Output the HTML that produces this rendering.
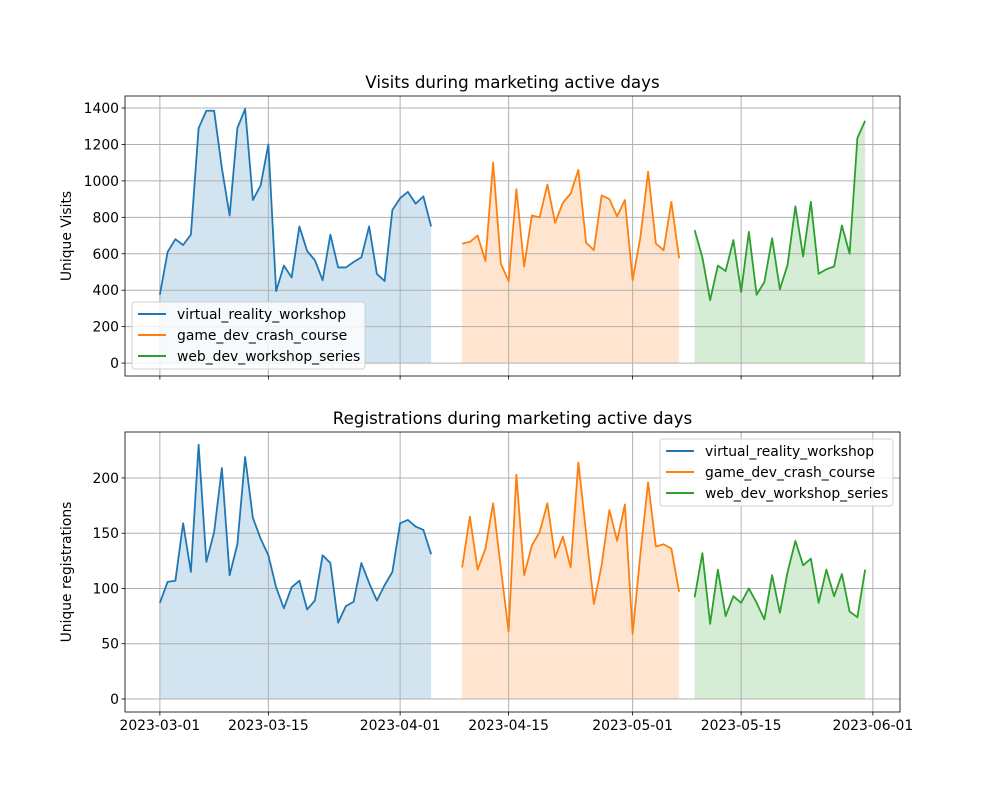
<!DOCTYPE html>
<html><head><meta charset="utf-8"><style>
body{margin:0;background:#fff;font-family:"Liberation Sans","DejaVu Sans",sans-serif}
svg text{font-family:"DejaVu Sans","Liberation Sans",sans-serif;fill:#000}
</style></head><body>
<svg id="fig" width="1000" height="800" viewBox="0 0 1000 800" xmlns="http://www.w3.org/2000/svg"></svg>
<script>
const seriesNames = ["virtual_reality_workshop","game_dev_crash_course","web_dev_workshop_series"];
const colors = ["#1f77b4","#ff7f0e","#2ca02c"];
const startDays = [0, 39, 69]; // days after 2023-03-01
const visitsVR = [375,610,680,648,705,1290,1385,1385,1070,810,1290,1395,895,975,1200,395,535,470,750,615,565,455,705,525,525,555,580,750,490,450,840,905,940,875,915,750];
const visitsGame = [655,665,700,560,1100,545,450,955,530,810,800,980,770,880,930,1060,660,620,920,900,805,895,455,690,1050,655,620,885,575];
const visitsWeb = [730,580,345,535,505,675,390,720,375,445,685,405,540,860,585,885,490,515,530,755,600,1235,1330];
const regsVR = [87,106,107,159,115,230,124,151,209,112,140,219,164,145,130,101,82,101,107,81,89,130,123,69,84,88,123,105,89,103,115,159,162,156,153,131];
const regsGame = [119,165,117,136,177,118,61,203,112,139,151,177,128,147,119,214,150,86,121,171,143,176,59,131,196,138,140,136,97];
const regsWeb = [92,132,68,117,75,93,87,100,87,72,112,78,115,143,121,127,87,117,93,113,79,74,117];
const xTickDays = [0,14,31,45,61,75,92];
const xTickLabels = ["2023-03-01","2023-03-15","2023-04-01","2023-04-15","2023-05-01","2023-05-15","2023-06-01"];
const visitTicks = [0,200,400,600,800,1000,1200,1400];
const regTicks = [0,50,100,150,200];

const NS="http://www.w3.org/2000/svg";
const svg=document.getElementById('fig');
function mk(tag,attrs,parent){const e=document.createElementNS(NS,tag);for(const k in attrs)e.setAttribute(k,attrs[k]);(parent||svg).appendChild(e);return e;}
const L=125,R=900;
const xs=d=>L+(d+4.5)/100*(R-L);

function panel(top,bottom,ymin,ymax,yTicks,data,title,ylabel,showXLabels,legendPos,prefix){
  const ys=v=>bottom-(v-ymin)/(ymax-ymin)*(bottom-top);
  const g=mk('g',{});
  
  
  data.forEach((arr,i)=>{
    let d='M'+xs(startDays[i])+','+ys(0);
    arr.forEach((v,j)=>{d+=' L'+xs(startDays[i]+j)+','+ys(v);});
    d+=' L'+xs(startDays[i]+arr.length-1)+','+ys(0)+' Z';
    const p=mk('path',{d:d,fill:colors[i],'fill-opacity':0.2,stroke:'none'},g);
    
    
  });
  xTickDays.forEach((d,i)=>{
    const x=xs(d);
    const gl=mk('line',{x1:x,x2:x,y1:top,y2:bottom,stroke:'#b0b0b0','stroke-width':1},g);
    
    
    mk('line',{x1:x,x2:x,y1:bottom,y2:bottom+3.5,stroke:'#000','stroke-width':0.8},g);
    if(showXLabels){
      const t=mk('text',{x:x,y:bottom+18,'font-size':13.9,'text-anchor':'middle'},g);
      t.textContent=xTickLabels[i];
      
      
    }
  });
  yTicks.forEach(v=>{
    const y=ys(v);
    const gl=mk('line',{x1:L,x2:R,y1:y,y2:y,stroke:'#b0b0b0','stroke-width':1},g);
    
    
    mk('line',{x1:L-3.5,x2:L,y1:y,y2:y,stroke:'#000','stroke-width':0.8},g);
    const t=mk('text',{x:L-6,y:y+5,'font-size':13.9,'text-anchor':'end'},g);
    t.textContent=v;
    
    
  });
  data.forEach((arr,i)=>{
    const pts=arr.map((v,j)=>xs(startDays[i]+j)+','+ys(v)).join(' ');
    const pl=mk('polyline',{points:pts,fill:'none',stroke:colors[i],'stroke-width':1.8,'stroke-linejoin':'round'},g);
    
    
  });
  const fr=mk('rect',{x:L,y:top,width:R-L,height:bottom-top,fill:'none',stroke:'#000','stroke-width':0.8},g);
  
  
  const tt=mk('text',{x:(L+R)/2,y:top-8,'font-size':16.7,'text-anchor':'middle'},g);
  tt.textContent=title;
  
  
  const yl=mk('text',{x:0,y:0,'font-size':13.9,'text-anchor':'middle',transform:'translate(71,'+((top+bottom)/2)+') rotate(-90)'},g);
  yl.textContent=ylabel;
  
  
  const lg=mk('g',{},g);
  
  
  mk('rect',{x:legendPos[0],y:legendPos[1],width:233,height:67,rx:3,fill:'#fff','fill-opacity':0.8,stroke:'#d0d0d0','stroke-width':1},lg);
  seriesNames.forEach((n,i)=>{
    const yy=legendPos[1]+12+i*21;
    mk('line',{x1:legendPos[0]+6,x2:legendPos[0]+34,y1:yy,y2:yy,stroke:colors[i],'stroke-width':2},lg);
    const t=mk('text',{x:legendPos[0]+45,y:yy+5,'font-size':13.9},lg);
    t.textContent=n;
    
    
  });
}
panel(96,376,-71,1466,visitTicks,[visitsVR,visitsGame,visitsWeb],'Visits during marketing active days','Unique Visits',false,[132,302],'visits');
panel(432,712,-11.8,241.6,regTicks,[regsVR,regsGame,regsWeb],'Registrations during marketing active days','Unique registrations',true,[660,439],'registrations');
</script>
</body></html>
